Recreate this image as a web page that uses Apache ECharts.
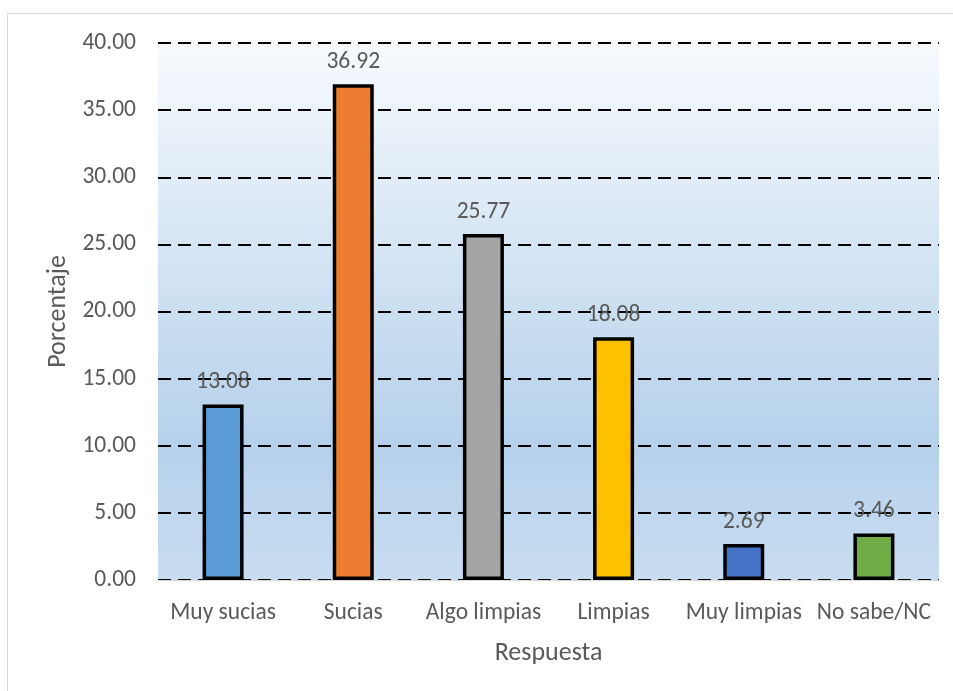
<!DOCTYPE html>
<html>
<head>
<meta charset="utf-8">
<script src="https://cdn.jsdelivr.net/npm/echarts@6/dist/echarts.min.js"></script>
<style>
html,body{margin:0;padding:0;background:#fff;}
#frame{position:absolute;left:7px;top:13px;width:960px;height:700px;border:1px solid #d9d9d9;box-sizing:border-box;}
#c{position:absolute;left:0;top:0;width:953px;height:691px;}
</style>
</head>
<body>
<div id="frame"></div>
<div id="c"></div>
<script>
const categories = ['Muy sucias', 'Sucias', 'Algo limpias', 'Limpias', 'Muy limpias', 'No sabe/NC'];
const values = [13.08, 36.92, 25.77, 18.08, 2.69, 3.46];
const barColors = ['#5b9bd5', '#ed7d31', '#a5a5a5', '#ffc000', '#4472c4', '#70ad47'];
const yTicks = { min: 0, max: 40, interval: 5 };

const chart = echarts.init(document.getElementById('c'), null, { renderer: 'canvas' });
const font = 'Carlito, "Open Sans", "Noto Sans", sans-serif';
chart.setOption({
  animation: false,
  textStyle: { fontFamily: font },
  grid: {
    left: 158, right: 14, top: 43, bottom: 111,
    show: true, borderWidth: 0,
    backgroundColor: {
      type: 'linear', x: 0, y: 0, x2: 0, y2: 1,
      colorStops: [
        { offset: 0, color: '#f7fafd' },
        { offset: 0.75, color: '#b5d1eb' },
        { offset: 1, color: '#c9ddf1' }
      ]
    }
  },
  xAxis: {
    type: 'category',
    data: categories,
    name: 'Respuesta',
    nameLocation: 'middle',
    nameGap: 60,
    nameTextStyle: { color: '#595959', fontSize: 26, fontFamily: font },
    axisLine: { show: true, lineStyle: { color: '#d9d9d9', width: 1 } },
    axisTick: { show: false },
    axisLabel: { color: '#595959', fontSize: 23.5, margin: 21, fontFamily: font, interval: 0 }
  },
  yAxis: {
    type: 'value',
    min: yTicks.min, max: yTicks.max, interval: yTicks.interval,
    name: 'Porcentaje',
    nameLocation: 'middle',
    nameGap: 85,
    nameTextStyle: { color: '#595959', fontSize: 26, fontFamily: font },
    axisLine: { show: false },
    axisTick: { show: false },
    axisLabel: { color: '#595959', fontSize: 23.5, margin: 22, fontFamily: font,
      formatter: v => v.toFixed(2) },
    splitLine: { show: true, lineStyle: { color: '#000', width: 2, type: [13, 7] } }
  },
  series: [{
    type: 'bar',
    data: values.map((v, i) => ({ value: v, itemStyle: { color: barColors[i] } })),
    barWidth: 41,
    itemStyle: { borderColor: '#000', borderWidth: 3.5 },
    label: {
      show: true, position: 'top', distance: 10,
      color: '#595959', fontSize: 23.5, fontFamily: font,
      formatter: p => p.value.toFixed(2)
    },
    z: 3
  }]
});
</script>
</body>
</html>
